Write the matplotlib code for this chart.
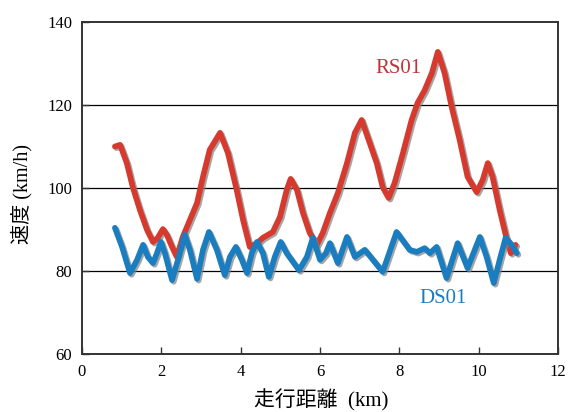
import matplotlib
matplotlib.use("Agg")
import matplotlib.pyplot as plt
import matplotlib.patheffects as pe

# RS01 (red) distance [km] / speed [km/h]
rs_km = [0.83, 0.96, 1.13, 1.28, 1.46, 1.64, 1.79, 1.91, 2.04, 2.14, 2.27, 2.39,
         2.54, 2.72, 2.90, 3.05, 3.22, 3.48, 3.68, 3.90, 4.06, 4.23, 4.41, 4.56,
         4.81, 4.99, 5.16, 5.26, 5.42, 5.57, 5.74, 5.92, 6.07, 6.25, 6.45, 6.68,
         6.88, 7.05, 7.20, 7.43, 7.58, 7.73, 7.88, 8.09, 8.31, 8.46, 8.64, 8.82,
         8.97, 9.14, 9.32, 9.52, 9.72, 9.95, 10.10, 10.23, 10.35, 10.53, 10.71,
         10.81, 10.93]
rs_v = [110.0, 110.4, 106.0, 100.2, 94.7, 89.9, 87.0, 88.0, 90.1, 88.7, 85.8, 83.4,
        88.2, 92.3, 96.4, 102.7, 109.2, 113.3, 108.4, 99.5, 92.3, 85.8, 86.7, 88.0,
        89.4, 93.0, 99.5, 102.2, 99.5, 94.0, 89.2, 86.3, 89.2, 94.0, 98.8, 106.0,
        113.3, 116.4, 112.3, 106.0, 100.2, 97.6, 101.2, 108.4, 116.4, 120.5, 123.6, 127.7,
        132.8, 127.7, 119.5, 111.6, 102.7, 99.0, 101.9, 106.0, 102.7, 94.7, 87.5,
        84.3, 86.3]

# DS01 (blue)
ds_km = [0.83, 1.01, 1.21, 1.39, 1.54, 1.66, 1.79, 1.89, 1.99, 2.09, 2.27, 2.42,
         2.59, 2.72, 2.90, 3.05, 3.20, 3.40, 3.60, 3.73, 3.88, 4.03, 4.16, 4.28,
         4.41, 4.56, 4.71, 4.86, 5.01, 5.16, 5.47, 5.67, 5.82, 6.00, 6.15, 6.25,
         6.45, 6.68, 6.88, 7.13, 7.58, 7.93, 8.26, 8.44, 8.64, 8.77, 8.94, 9.19,
         9.47, 9.72, 10.03, 10.20, 10.38, 10.53, 10.68, 10.83, 10.96]
ds_v = [90.4, 85.8, 79.5, 82.7, 86.3, 83.4, 81.9, 84.3, 87.0, 84.3, 77.8, 82.7,
        88.7, 85.1, 78.1, 85.1, 89.4, 85.1, 79.0, 83.4, 85.8, 82.7, 79.5, 84.3,
        87.0, 84.3, 78.6, 83.4, 87.0, 84.3, 80.2, 83.4, 88.0, 82.7, 84.3, 86.7,
        81.9, 88.2, 83.4, 85.1, 79.8, 89.4, 85.1, 84.6, 85.5, 84.3, 85.8, 78.3,
        86.7, 80.7, 88.2, 83.4, 77.1, 82.7, 88.0, 86.3, 84.3]

xticks = [0, 2, 4, 6, 8, 10, 12]
yticks = [60, 80, 100, 120, 140]

red = "#d63a2e"
blue = "#1a7dc0"
serif = "Liberation Serif"
mixed = [serif, "Noto Sans CJK JP"]

fig = plt.figure(figsize=(5.68, 4.12), dpi=100)
ax = fig.add_axes([82 / 568, 1 - 354 / 412, 476 / 568, 332 / 412])

shadow = [pe.SimpleLineShadow(offset=(1.2, -1.2), shadow_color="gray", alpha=0.7),
          pe.Normal()]
ax.plot(rs_km, rs_v, color=red, lw=4.1, solid_joinstyle="round",
        solid_capstyle="round", path_effects=shadow, zorder=3)
ax.plot(ds_km, ds_v, color=blue, lw=4.1, solid_joinstyle="round",
        solid_capstyle="round", path_effects=shadow, zorder=3)

ax.set_xlim(0, 12)
ax.set_ylim(60, 140)
ax.set_xticks(xticks)
ax.set_yticks(yticks)
for y in [80, 100, 120]:
    ax.axhline(y, color="black", lw=0.9, zorder=1)

ax.tick_params(direction="in", length=5, width=1, colors="#333333",
               labelcolor="black", labelsize=12, pad=7)
for lab in ax.get_xticklabels() + ax.get_yticklabels():
    lab.set_fontfamily(serif)
for s in ax.spines.values():
    s.set_linewidth(1.4)
    s.set_color("#333333")

ax.text(7.98, 128.9, "RS01", color="#c2303a", fontsize=15, family=serif,
        ha="center", va="center")
ax.text(9.09, 73.3, "DS01", color=blue, fontsize=15, family=serif,
        ha="center", va="center")

fig.text(321 / 568, 1 - 400 / 412, "走行距離  (km)", family=mixed, fontsize=15,
         ha="center", va="center")
fig.text(22 / 568, 1 - 194 / 412, "速度 (km/h)", family=mixed, fontsize=14.5,
         rotation=90, ha="center", va="center")

fig.savefig("out.png", dpi=100)
